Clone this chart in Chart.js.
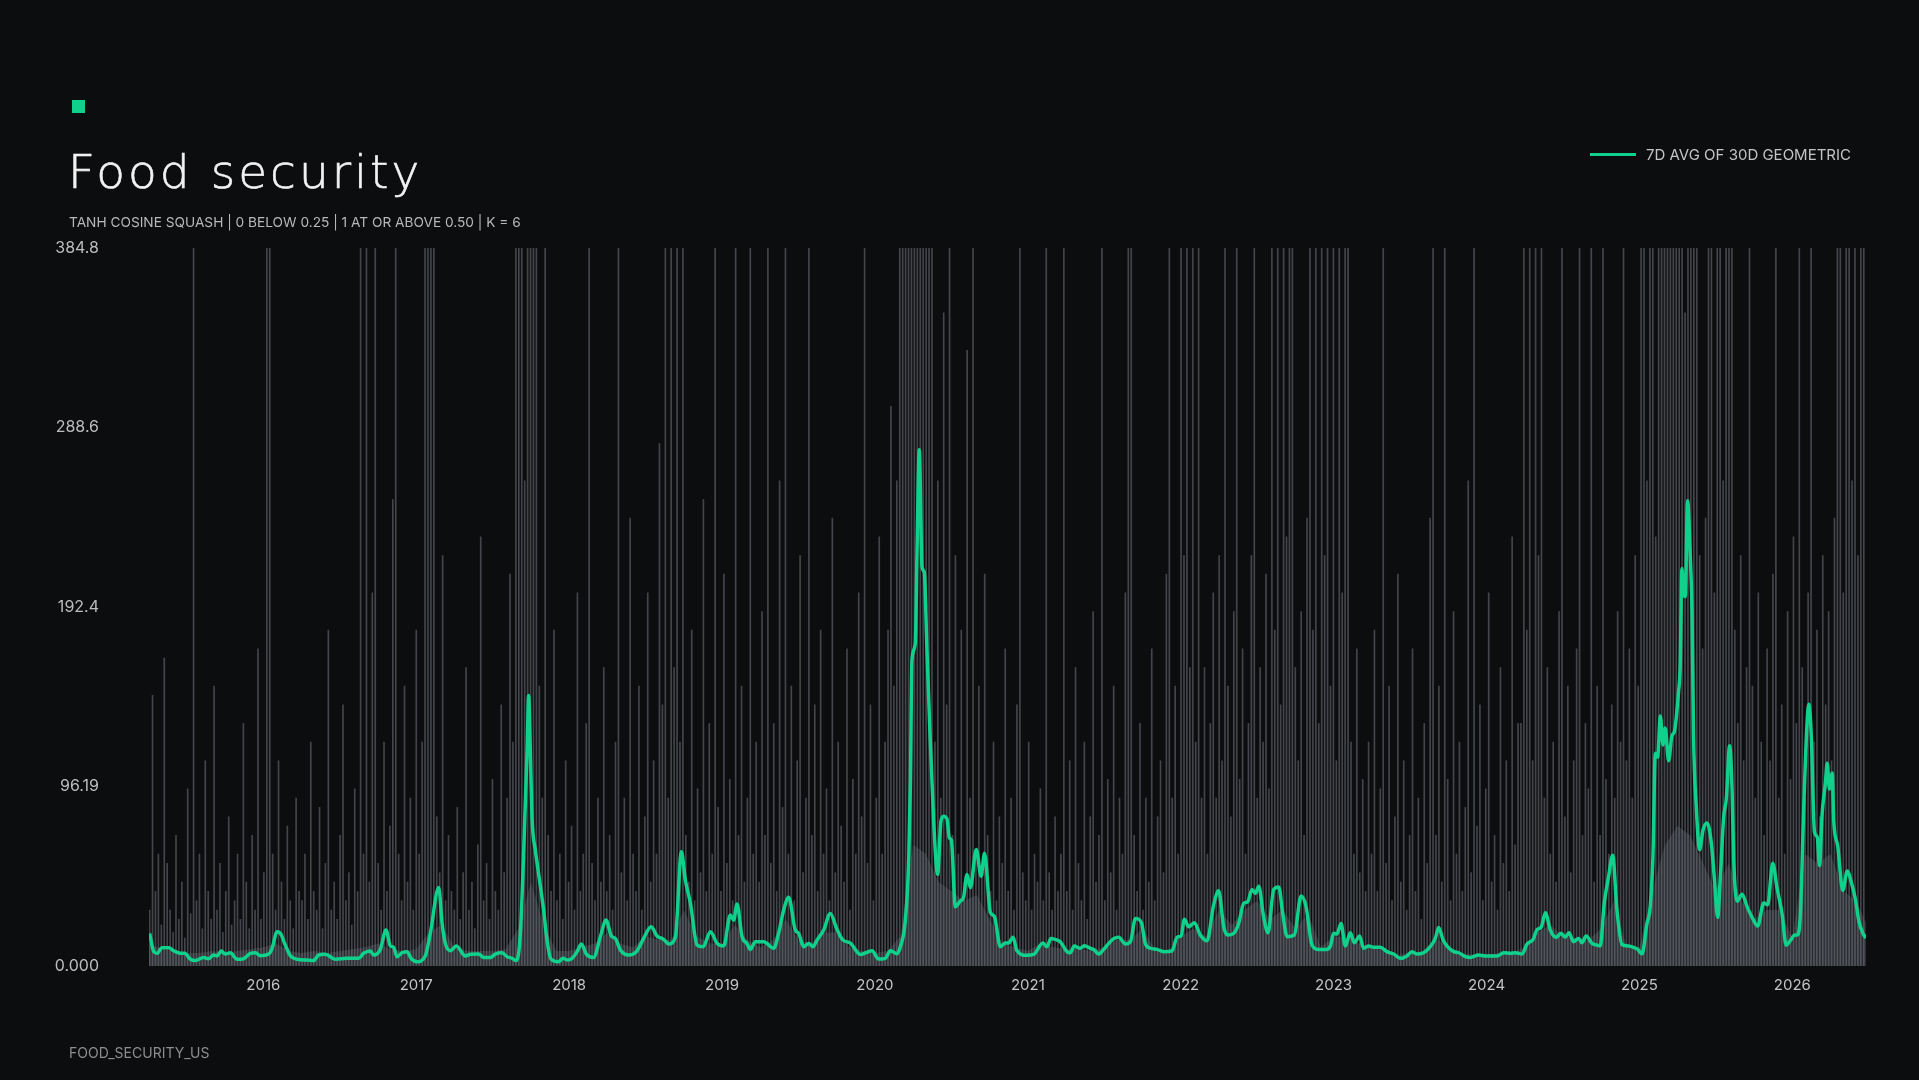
<!DOCTYPE html>
<html>
<head>
<meta charset="utf-8">
<script src="https://cdn.jsdelivr.net/npm/chart.js@4.4.1/dist/chart.umd.min.js"></script>
<style>
html, body { margin: 0; padding: 0; background: #0c0d0f; }
body { width: 1919px; height: 1080px; position: relative; overflow: hidden; font-family: Inter, "Noto Sans", sans-serif; }
#chart { position: absolute; left: 0; top: 0; }
.mark { position: absolute; left: 72px; top: 100px; width: 13px; height: 13px; background: #10d18c; }
.title { position: absolute; left: 68px; top: 148px; font: 200 47px/47px "DejaVu Sans", sans-serif; letter-spacing: 3px; color: #f2f2f2; -webkit-text-stroke: 0.6px #f2f2f2; white-space: nowrap; }
.sub { position: absolute; left: 69px; top: 215px; font-size: 13.7px; line-height: 14px; color: #b8b8b8; white-space: nowrap; }
.legend { position: absolute; left: 1590px; top: 147px; font-size: 15px; line-height: 15px; color: #c4c4c4; white-space: nowrap; }
.legend .swatch { display: inline-block; width: 46px; height: 3px; background: #10d18c; vertical-align: middle; margin-right: 10px; position: relative; top: -1px; }
.foot { position: absolute; left: 69px; top: 1046px; font-size: 14px; line-height: 14px; color: #8d8d8d; white-space: nowrap; }
</style>
</head>
<body>
<canvas id="chart" width="1919" height="1080"></canvas>
<div class="mark"></div>
<div class="title">Food security</div>
<div class="sub">TANH COSINE SQUASH | 0 BELOW 0.25 | 1 AT OR ABOVE 0.50 | K = 6</div>
<div class="legend"><span class="swatch"></span>7D AVG OF 30D GEOMETRIC</div>
<div class="foot">FOOD_SECURITY_US</div>
<script>
// axis
const yearTicks = [2016, 2017, 2018, 2019, 2020, 2021, 2022, 2023, 2024, 2025, 2026];
const yTickValues = [0, 96.19, 192.4, 288.6, 384.8];
const yTickLabels = ['0.000', '96.19', '192.4', '288.6', '384.8'];
const xMin = 2015.252, xMax = 2026.482;

// 7d avg line (decimal year, value)
const lineX = [
  2015.256, 2015.283, 2015.305, 2015.337, 2015.381, 2015.413, 2015.457, 2015.485, 2015.523, 2015.555,
  2015.610, 2015.642, 2015.675, 2015.697, 2015.725, 2015.751, 2015.784, 2015.828, 2015.871, 2015.915,
  2015.948, 2015.980, 2016.035, 2016.057, 2016.090, 2016.111, 2016.144, 2016.177, 2016.220, 2016.286,
  2016.329, 2016.362, 2016.405, 2016.471, 2016.547, 2016.623, 2016.656, 2016.700, 2016.721, 2016.765,
  2016.802, 2016.831, 2016.852, 2016.874, 2016.907, 2016.940, 2016.966, 2017.005, 2017.059, 2017.092,
  2017.147, 2017.169, 2017.190, 2017.223, 2017.262, 2017.321, 2017.354, 2017.408, 2017.441, 2017.485,
  2017.517, 2017.561, 2017.594, 2017.627, 2017.655, 2017.681, 2017.703, 2017.725, 2017.735, 2017.746,
  2017.757, 2017.779, 2017.800, 2017.833, 2017.855, 2017.882, 2017.931, 2017.960, 2017.990, 2018.019,
  2018.052, 2018.080, 2018.112, 2018.160, 2018.204, 2018.241, 2018.276, 2018.302, 2018.335, 2018.389,
  2018.440, 2018.487, 2018.536, 2018.575, 2018.618, 2018.651, 2018.695, 2018.734, 2018.760, 2018.793,
  2018.837, 2018.876, 2018.924, 2018.968, 2019.011, 2019.054, 2019.076, 2019.098, 2019.131, 2019.163,
  2019.185, 2019.218, 2019.272, 2019.338, 2019.370, 2019.403, 2019.436, 2019.479, 2019.501, 2019.534,
  2019.567, 2019.595, 2019.621, 2019.665, 2019.708, 2019.750, 2019.790, 2019.839, 2019.905, 2019.981,
  2020.024, 2020.068, 2020.101, 2020.145, 2020.166, 2020.199, 2020.221, 2020.232, 2020.242, 2020.264,
  2020.275, 2020.290, 2020.308, 2020.323, 2020.340, 2020.358, 2020.384, 2020.410, 2020.432, 2020.449,
  2020.471, 2020.487, 2020.500, 2020.526, 2020.558, 2020.580, 2020.602, 2020.624, 2020.663, 2020.694,
  2020.717, 2020.755, 2020.781, 2020.820, 2020.853, 2020.874, 2020.903, 2020.929, 2020.995, 2021.038,
  2021.099, 2021.126, 2021.151, 2021.191, 2021.212, 2021.256, 2021.278, 2021.304, 2021.343, 2021.369,
  2021.409, 2021.435, 2021.463, 2021.496, 2021.529, 2021.561, 2021.594, 2021.638, 2021.671, 2021.704,
  2021.743, 2021.768, 2021.801, 2021.845, 2021.888, 2021.943, 2021.976, 2022.002, 2022.024, 2022.052,
  2022.089, 2022.128, 2022.172, 2022.215, 2022.248, 2022.281, 2022.307, 2022.346, 2022.379, 2022.412,
  2022.438, 2022.466, 2022.488, 2022.510, 2022.542, 2022.571, 2022.608, 2022.641, 2022.667, 2022.696,
  2022.743, 2022.787, 2022.819, 2022.859, 2022.902, 2022.952, 2022.979, 2023.000, 2023.022, 2023.048,
  2023.077, 2023.109, 2023.135, 2023.170, 2023.196, 2023.229, 2023.262, 2023.305, 2023.349, 2023.393,
  2023.436, 2023.480, 2023.513, 2023.545, 2023.589, 2023.632, 2023.665, 2023.687, 2023.716, 2023.742,
  2023.786, 2023.818, 2023.862, 2023.895, 2023.949, 2023.993, 2024.037, 2024.069, 2024.113, 2024.156,
  2024.189, 2024.233, 2024.265, 2024.305, 2024.331, 2024.357, 2024.385, 2024.417, 2024.456, 2024.487,
  2024.515, 2024.539, 2024.569, 2024.602, 2024.624, 2024.652, 2024.690, 2024.722, 2024.744, 2024.770,
  2024.798, 2024.825, 2024.853, 2024.886, 2024.929, 2024.962, 2024.988, 2025.017, 2025.049, 2025.071,
  2025.089, 2025.104, 2025.119, 2025.137, 2025.154, 2025.169, 2025.191, 2025.213, 2025.228, 2025.256,
  2025.267, 2025.278, 2025.289, 2025.300, 2025.315, 2025.333, 2025.344, 2025.354, 2025.372, 2025.394,
  2025.416, 2025.442, 2025.470, 2025.490, 2025.512, 2025.529, 2025.551, 2025.569, 2025.590, 2025.606,
  2025.617, 2025.639, 2025.671, 2025.704, 2025.737, 2025.774, 2025.813, 2025.839, 2025.872, 2025.900,
  2025.933, 2025.960, 2025.988, 2026.016, 2026.032, 2026.053, 2026.075, 2026.097, 2026.108, 2026.124,
  2026.145, 2026.163, 2026.178, 2026.195, 2026.217, 2026.228, 2026.243, 2026.261, 2026.271, 2026.297,
  2026.330, 2026.359, 2026.391, 2026.413, 2026.435, 2026.461, 2026.482
];
const lineY = [
  17.5, 7.7, 6.8, 9.8, 9.8, 8.2, 6.8, 6.8, 3.6, 2.9,
  4.6, 3.9, 5.9, 5.4, 8.0, 6.4, 7.1, 3.6, 3.9, 6.8,
  7.1, 5.5, 6.4, 9.5, 18.4, 17.5, 11.2, 5.4, 3.6, 3.2,
  2.9, 5.9, 6.3, 3.6, 4.1, 4.1, 6.8, 8.0, 5.9, 8.9,
  19.3, 10.7, 10.0, 5.0, 7.1, 7.7, 4.1, 2.3, 5.4, 17.5,
  42.1, 22.8, 12.1, 8.2, 10.7, 5.4, 6.3, 6.4, 4.6, 4.6,
  6.4, 7.1, 5.0, 4.1, 2.9, 17.5, 62, 115.6, 145, 115.6,
  79.9, 62, 49.6, 30, 13.9, 3.6, 2.3, 4.1, 3.2, 4.1,
  7.7, 11.8, 6.4, 4.6, 15.7, 24.6, 16.1, 14.8, 8.6, 5.9,
  7.7, 14.8, 21.0, 16.1, 14.3, 11.8, 15.4, 61.2, 46, 33.6,
  11.2, 10.3, 18.4, 12.1, 10.7, 27.3, 24.6, 33.2, 15.7, 12.1,
  8.9, 13.0, 13.0, 9.5, 17.5, 30, 36.8, 19.3, 17.5, 10.3,
  12.1, 10.3, 13.9, 19.3, 28.2, 20, 14, 12.3, 6.2, 8.2,
  3.7, 4.1, 8.2, 6.6, 10.3, 24.6, 57.3, 98.2, 163.7, 173,
  221, 276.7, 213.9, 210.8, 169.8, 129, 77.8, 49.1, 77.8, 80.3,
  78.8, 68.6, 67.5, 31.7, 34.8, 36.9, 49.1, 42, 62.5, 48.1,
  60.4, 28.7, 26.6, 10.3, 12.3, 12.3, 15.4, 8.2, 5.7, 6.2,
  12.3, 10.3, 14.8, 13.9, 13.0, 7.7, 7.1, 10.7, 9.5, 10.9,
  9.5, 8.6, 6.4, 8.9, 12.1, 14.6, 15.4, 11.8, 13.0, 25.5,
  23.2, 12.1, 9.5, 8.9, 7.7, 8.0, 15.4, 16.1, 25, 21.0,
  23.2, 16.6, 13.5, 32.6, 40.3, 21.0, 16.6, 17.5, 22.8, 33.6,
  34.4, 41.0, 38.9, 42.8, 26.4, 17.8, 41.0, 42.4, 28.2, 15.7,
  16.6, 37.5, 32.1, 11.2, 8.9, 8.9, 10.7, 17.5, 17.1, 22.8,
  10.7, 17.8, 12.5, 16.1, 9.5, 10.7, 10.0, 10.0, 7.7, 6.4,
  4.1, 5.4, 7.7, 6.4, 7.1, 10.3, 14.8, 20.7, 13.9, 10.7,
  7.7, 7.1, 5.0, 4.6, 5.9, 5.4, 5.4, 5.4, 7.1, 6.8,
  7.1, 6.4, 11.8, 14.3, 19.6, 20.7, 28.5, 19.3, 15.4, 17.5,
  15.4, 17.8, 13.0, 14.8, 12.5, 16.1, 12.1, 11.2, 10.7, 33.6,
  47.8, 59.4, 30, 11.5, 10.7, 10.0, 9.0, 6.5, 22.5, 32,
  60, 114, 112, 134, 118.5, 127.5, 110, 123.5, 125.4, 147,
  161.6, 213.1, 199.6, 197.9, 249.4, 218.9, 190.2, 123.5, 85.3, 62.4,
  72.9, 76.7, 66.2, 47.1, 26.1, 47.1, 79.6, 90.1, 118.1, 94.8,
  56.7, 34.7, 38.5, 31.8, 26.1, 21.4, 33.8, 32.8, 55.1, 41.9,
  28.0, 11.2, 13.7, 16.6, 16.6, 28.0, 85.3, 131.1, 140.3, 123.5,
  71.9, 69.1, 53.8, 81.4, 98.6, 108.6, 94.8, 103.4, 77.6, 64.3,
  40.5, 50.9, 43.3, 35.6, 24.2, 17.6, 15.0
];

// weekly raw spikes (grey bars), first week starts spikeStart
const spikeStart = 2015.256;
const spikeWeek = 7 / 365.25;
const spikes = [
  30, 145, 40, 60, 22, 165, 55, 30, 18, 70, 25, 45, 15, 95, 28, 400, 35, 60, 20, 110,
  40, 25, 150, 30, 55, 18, 40, 80, 22, 35, 60, 25, 130, 45, 20, 70, 30, 170, 25, 50,
  400, 400, 60, 30, 110, 45, 25, 75, 35, 20, 90, 40,
  35, 60, 25, 120, 40, 30, 85, 20, 55, 180, 30, 45, 25, 70, 140, 35, 50, 22, 95, 40,
  400, 60, 400, 45, 200, 400, 55, 30, 120, 40, 75, 250, 400, 60, 35, 150, 45, 90, 30, 180,
  60, 120, 400, 400, 400, 400, 80, 50, 220, 35, 70, 40,
  30, 85, 25, 50, 160, 30, 45, 20, 65, 230, 35, 55, 25, 100, 40, 30, 140, 50, 90, 210,
  120, 400, 400, 400, 260, 400, 400, 400, 400, 150, 90, 400, 70, 40, 180, 35, 60, 25, 110, 45,
  75, 30, 200, 40, 60, 130, 400, 55, 35, 90, 45, 160,
  40, 70, 30, 120, 400, 50, 90, 35, 240, 60, 40, 150, 30, 80, 200, 45, 110, 60, 280, 140,
  400, 90, 400, 160, 400, 120, 400, 70, 45, 180, 35, 95, 50, 250, 40, 130, 60, 400, 85, 40,
  210, 55, 100, 35, 400, 70, 150, 45, 90, 400, 60, 120,
  45, 190, 70, 400, 55, 130, 40, 260, 85, 400, 60, 150, 35, 110, 220, 50, 90, 400, 70, 140,
  40, 180, 60, 95, 35, 240, 50, 120, 75, 45, 170, 30, 100, 60, 200, 80, 400, 55, 140, 35,
  90, 230, 60, 120, 180, 300, 150, 260, 400, 400, 400, 400,
  400, 400, 400, 400, 400, 400, 400, 400, 120, 260, 90, 350, 140, 400, 70, 220, 60, 180,
  45, 330, 90, 400, 60, 150, 50, 210, 70, 40, 120, 35, 80, 55, 170, 40, 90, 30, 140, 400,
  50, 35, 120, 30, 60, 45, 95, 35, 400, 50, 30, 80, 40, 60,
  400, 40, 110, 30, 160, 55, 35, 120, 25, 80, 190, 45, 70, 400, 35, 100, 50, 150, 30, 90,
  60, 200, 400, 400, 70, 40, 130, 30, 90, 45, 170, 35, 80, 110, 50, 210, 400, 90, 150, 60,
  400, 220, 400, 160, 400, 120, 400, 90, 160, 60, 130, 200,
  90, 220, 110, 400, 150, 80, 190, 400, 100, 170, 60, 130, 220, 400, 90, 160, 120, 210, 95, 400,
  180, 400, 140, 400, 230, 400, 400, 160, 110, 190, 70, 240, 400, 180, 400, 130, 400, 220, 400, 150,
  400, 110, 400, 200, 400, 400, 120, 60, 170, 50, 100, 40,
  120, 60, 180, 40, 95, 400, 55, 150, 35, 80, 210, 45, 110, 30, 70, 170, 40, 90, 25, 130,
  55, 240, 400, 70, 150, 45, 400, 100, 35, 190, 60, 120, 40, 85, 260, 50, 400, 75, 140, 35,
  95, 200, 45, 70, 30, 160, 55, 110, 40, 230, 65, 130,
  130, 400, 180, 400, 110, 400, 220, 400, 90, 160, 60, 120, 45, 190, 400, 80, 150, 50, 110, 170,
  400, 70, 130, 95, 400, 45, 150, 70, 400, 100, 60, 140, 90, 190, 120, 400, 110, 170, 90, 220,
  150, 400, 400, 260, 400, 400, 230, 400, 400, 400, 400, 400,
  400, 400, 400, 400, 350, 400, 400, 400, 400, 220, 170, 240, 400, 400, 200, 400, 400, 260, 400, 400,
  400, 180, 130, 220, 110, 160, 400, 150, 90, 200, 120, 70, 170, 110, 210, 400, 90, 140, 60, 190,
  100, 230, 130, 400, 160, 90, 200, 400, 120, 180, 80, 220, 140, 190, 110, 240, 400, 400, 200, 400,
  400, 260, 400, 220, 400, 400
];

// dense low floor of the raw series, monthly
const floorStart = 2015.25;
const floorLevel = [
  12, 9, 8, 7, 7, 8, 7, 8, 9,
  10, 12, 8, 7, 8, 7, 8, 9, 10, 12, 9, 8,
  9, 18, 22, 10, 8, 8, 8, 9, 20, 45, 22, 8,
  8, 10, 12, 18, 12, 10, 16, 14, 14, 30, 16, 12,
  12, 22, 14, 10, 14, 25, 14, 12, 18, 18, 10, 8,
  7, 8, 16, 65, 60, 45, 40, 35, 38, 25, 12, 10,
  8, 12, 10, 9, 9, 8, 10, 14, 14, 20, 9, 8,
  16, 20, 16, 30, 22, 30, 35, 25, 30, 20, 28, 10,
  16, 15, 12, 10, 8, 6, 7, 8, 15, 10, 7, 6,
  6, 7, 7, 10, 18, 22, 16, 15, 14, 20, 35, 10,
  10, 40, 65, 75, 70, 55, 40, 55, 35, 25, 30, 30,
  15, 60, 55, 60, 40, 35, 20
];

const GREEN = '#10d18c';

const linePts = lineX.map((x, i) => ({ x: x, y: lineY[i] }));
const spikePts = spikes.map((v, i) => ({ x: spikeStart + i * spikeWeek, y: v }));
const floorPts = floorLevel.map((v, i) => ({ x: floorStart + i / 12, y: v }));

new Chart(document.getElementById('chart'), {
  type: 'bar',
  data: {
    datasets: [
      {
        type: 'line',
        label: '7D AVG OF 30D GEOMETRIC',
        data: linePts,
        borderColor: GREEN,
        borderWidth: 3.5,
        pointRadius: 0,
        cubicInterpolationMode: 'monotone',
        order: 0
      },
      {
        type: 'bar',
        label: 'raw',
        data: spikePts,
        backgroundColor: 'rgba(122,126,133,0.5)',
        barThickness: 1,
        order: 1
      },
      {
        type: 'line',
        label: 'floor',
        data: floorPts,
        fill: 'origin',
        backgroundColor: 'rgba(62,65,70,0.6)',
        borderWidth: 0,
        pointRadius: 0,
        order: 2
      }
    ]
  },
  options: {
    responsive: false,
    animation: false,
    layout: { padding: { left: 0, right: 53, top: 248, bottom: 74 } },
    plugins: { legend: { display: false }, tooltip: { enabled: false } },
    scales: {
      x: {
        type: 'linear',
        min: xMin,
        max: xMax,
        offset: false,
        grid: { display: false, drawTicks: false },
        border: { display: false },
        afterBuildTicks: (axis) => { axis.ticks = yearTicks.map(v => ({ value: v })); },
        afterFit: (s) => { s.height = 40; },
        ticks: {
          autoSkip: false,
          maxRotation: 0,
          padding: 10,
          color: '#c4c4c4',
          font: { family: 'Inter', size: 15 },
          callback: (v) => String(v)
        }
      },
      y: {
        min: 0,
        max: 384.8,
        grid: { display: false, drawTicks: false },
        border: { display: false },
        afterBuildTicks: (axis) => { axis.ticks = yTickValues.map(v => ({ value: v })); },
        afterFit: (s) => { s.width = 149; },
        ticks: {
          padding: 50,
          color: '#bdbdbd',
          font: { family: 'Inter', size: 16 },
          callback: (v, i) => yTickLabels[i]
        }
      }
    }
  }
});
</script>
</body>
</html>
